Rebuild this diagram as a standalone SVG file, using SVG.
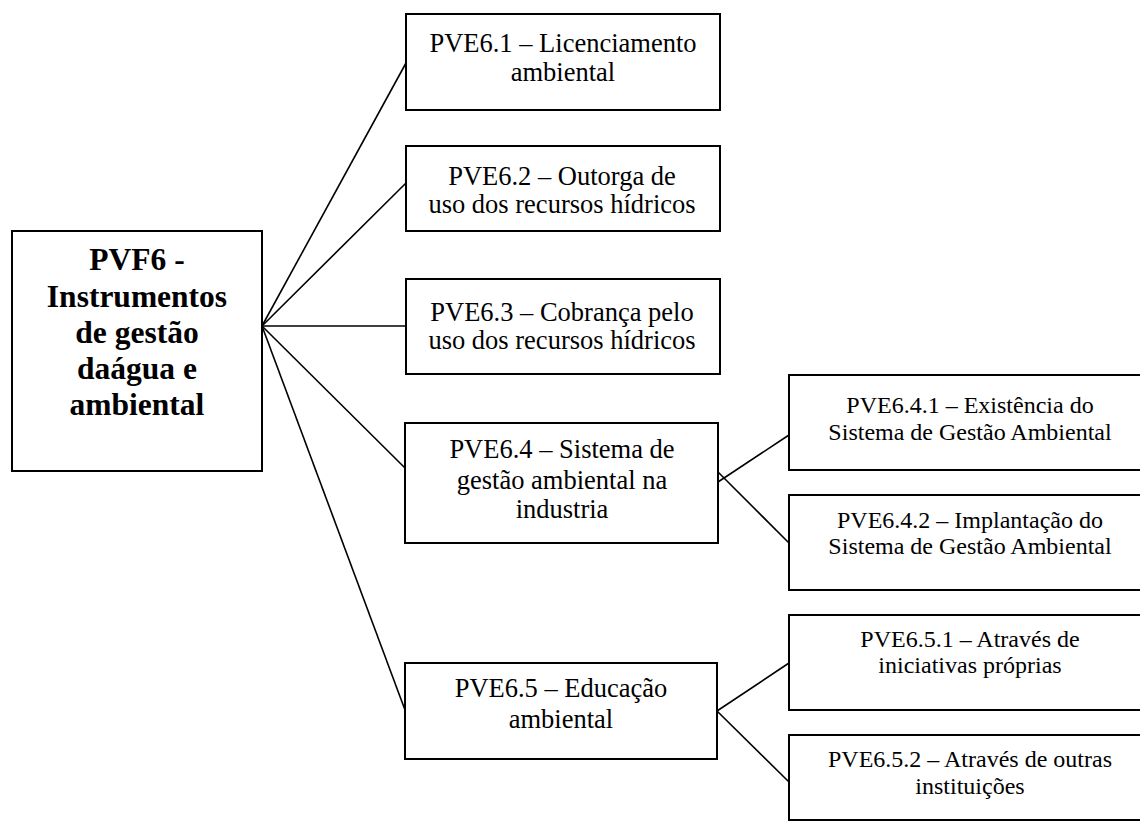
<svg xmlns="http://www.w3.org/2000/svg" width="1140" height="823" viewBox="0 0 1140 823">
<style>
.box{fill:#fff;stroke:#000;stroke-width:2}
.t{font-family:"Liberation Serif","Times New Roman",serif;font-size:26.5px;fill:#000;text-anchor:middle}
.s{font-family:"Liberation Serif","Times New Roman",serif;font-size:24px;fill:#000;text-anchor:middle}
.b{font-family:"Liberation Serif","Times New Roman",serif;font-size:31.5px;font-weight:bold;fill:#000;text-anchor:middle}
.c{stroke:#000;stroke-width:1.6;fill:none}
</style>
<rect width="1140" height="823" fill="#fff"/>
<g id="connectors">
<line class="c" x1="262" y1="326" x2="406" y2="63"/>
<line class="c" x1="262" y1="326" x2="406" y2="183"/>
<line class="c" x1="262" y1="326" x2="406" y2="326"/>
<line class="c" x1="262" y1="326" x2="405" y2="468"/>
<line class="c" x1="262" y1="326" x2="405" y2="710"/>
<line class="c" x1="718" y1="482" x2="789" y2="435"/>
<line class="c" x1="718" y1="472" x2="789" y2="543"/>
<line class="c" x1="717" y1="711" x2="789" y2="663"/>
<line class="c" x1="717" y1="711" x2="789" y2="782"/>
</g>
<g id="pvf6">
<rect class="box" x="12" y="231" width="250" height="240"/>
<text class="b" x="137" y="270">PVF6 -</text>
<text class="b" x="137" y="307">Instrumentos</text>
<text class="b" x="137" y="343">de gestão</text>
<text class="b" x="137" y="379">daágua e</text>
<text class="b" x="137" y="415">ambiental</text>
</g>
<g id="pve61">
<rect class="box" x="406" y="14" width="314" height="96"/>
<text class="t" x="563" y="52">PVE6.1 – Licenciamento</text>
<text class="t" x="563" y="81">ambiental</text>
</g>
<g id="pve62">
<rect class="box" x="406" y="146" width="314" height="85"/>
<text class="t" x="562" y="185">PVE6.2 – Outorga de</text>
<text class="t" x="562" y="213">uso dos recursos hídricos</text>
</g>
<g id="pve63">
<rect class="box" x="406" y="279" width="314" height="95"/>
<text class="t" x="562" y="321">PVE6.3 – Cobrança pelo</text>
<text class="t" x="562" y="349">uso dos recursos hídricos</text>
</g>
<g id="pve64">
<rect class="box" x="405" y="423" width="313" height="120"/>
<text class="t" x="562" y="458">PVE6.4 – Sistema de</text>
<text class="t" x="562" y="489">gestão ambiental na</text>
<text class="t" x="562" y="518">industria</text>
</g>
<g id="pve65">
<rect class="box" x="405" y="663" width="312" height="96"/>
<text class="t" x="561" y="697">PVE6.5 – Educação</text>
<text class="t" x="561" y="728">ambiental</text>
</g>
<g id="pve641">
<rect class="box" x="789" y="375" width="364" height="95"/>
<text class="s" x="970" y="413">PVE6.4.1 – Existência do</text>
<text class="s" x="970" y="440">Sistema de Gestão Ambiental</text>
</g>
<g id="pve642">
<rect class="box" x="789" y="495" width="364" height="95"/>
<text class="s" x="970" y="528">PVE6.4.2 – Implantação do</text>
<text class="s" x="970" y="554">Sistema de Gestão Ambiental</text>
</g>
<g id="pve651">
<rect class="box" x="789" y="615" width="364" height="95"/>
<text class="s" x="970" y="647">PVE6.5.1 – Através de</text>
<text class="s" x="970" y="673">iniciativas próprias</text>
</g>
<g id="pve652">
<rect class="box" x="789" y="735" width="364" height="85"/>
<text class="s" x="970" y="767">PVE6.5.2 – Através de outras</text>
<text class="s" x="970" y="794">instituições</text>
</g>
</svg>
